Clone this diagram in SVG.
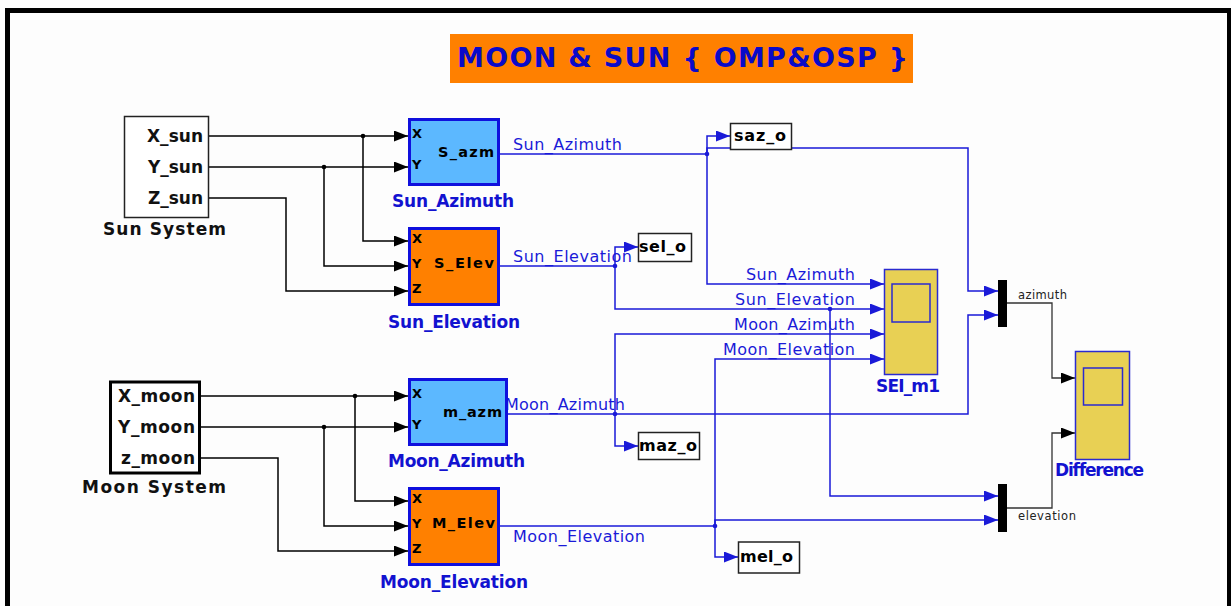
<svg xmlns="http://www.w3.org/2000/svg" width="1231" height="606" viewBox="0 0 1231 606">
<defs>
<style>
text{font-family:"DejaVu Sans","Liberation Sans",sans-serif}
.bold{font-weight:bold}
.lbl{font-weight:bold;font-size:17px;fill:#1212d0}
.port{font-weight:bold;font-size:13px;fill:#000}
.inner{font-weight:bold;font-size:14.5px;fill:#000}
.sys{font-weight:bold;font-size:17px;fill:#111}
.sig{font-size:16px;fill:#1a1ad8}
.outb{font-weight:bold;font-size:16px;fill:#000}
.k{fill:none;stroke:#000;stroke-width:1.5}
.km{fill:none;stroke:#333;stroke-width:1.3}
.b{fill:none;stroke:#1a1ad8;stroke-width:1.5}
.ak{marker-end:url(#ak)}
.ab{marker-end:url(#ab)}
.dk{fill:#000}
.db{fill:#1a1ad8}
.box{fill:#fff;stroke:#222;stroke-width:1.5}
.scope{fill:#E8D054;stroke:#2a2ad0;stroke-width:1.5}
.scin{fill:none;stroke:#2a2ad0;stroke-width:1.5}
</style>
<marker id="ak" markerUnits="userSpaceOnUse" markerWidth="15" markerHeight="11" refX="14" refY="5.5" orient="auto"><path d="M0,0 L14,5.5 L0,11 z" fill="#000"/></marker>
<marker id="ab" markerUnits="userSpaceOnUse" markerWidth="15" markerHeight="11" refX="14" refY="5.5" orient="auto"><path d="M0,0 L14,5.5 L0,11 z" fill="#1a1ad8"/></marker>
</defs>
<rect x="0" y="0" width="1231" height="606" fill="#fdfdfd"/>
<rect x="7.5" y="10.5" width="1222" height="700" fill="none" stroke="#000" stroke-width="5"/>

<g id="title">
<rect x="450" y="34" width="463" height="49" fill="#FF8000"/>
<text x="457" y="67" font-size="27" class="bold" fill="#0a0ac8" textLength="451">MOON &amp; SUN { OMP&amp;OSP }</text>
</g>

<g id="connectors">
<!-- sun inputs -->
<path class="k ak" d="M209,136 H408"/>
<path class="k ak" d="M363,136 V241 H408"/>
<path class="k ak" d="M209,167 H408"/>
<path class="k ak" d="M324,167 V266 H408"/>
<path class="k ak" d="M209,198 H286 V291 H408"/>
<circle class="dk" cx="363" cy="136" r="2.3"/>
<circle class="dk" cx="324" cy="167" r="2.3"/>
<!-- moon inputs -->
<path class="k ak" d="M201,396 H408"/>
<path class="k ak" d="M355,396 V501 H408"/>
<path class="k ak" d="M201,427 H408"/>
<path class="k ak" d="M324,427 V526 H408"/>
<path class="k ak" d="M201,458 H278 V551 H408"/>
<circle class="dk" cx="355" cy="396" r="2.3"/>
<circle class="dk" cx="324" cy="427" r="2.3"/>
<!-- Sun_Azimuth -->
<path class="b" d="M500,154 H707"/>
<path class="b ab" d="M707,154 V148 H968 V291 H998"/>
<path class="b ab" d="M707,154 V136 H730"/>
<path class="b ab" d="M707,154 V284 H884"/>
<circle class="db" cx="707" cy="154" r="2.3"/>
<!-- Sun_Elevation -->
<path class="b" d="M500,266 H615"/>
<path class="b ab" d="M615,266 V247 H638"/>
<path class="b ab" d="M615,266 V309 H884"/>
<path class="b ab" d="M830,309 V496 H998"/>
<circle class="db" cx="615" cy="266" r="2.3"/>
<circle class="db" cx="830" cy="309" r="2.3"/>
<!-- Moon_Azimuth -->
<path class="b ab" d="M508,414 H968 V315 H998"/>
<path class="b ab" d="M615,414 V334 H884"/>
<path class="b ab" d="M615,414 V446 H638"/>
<circle class="db" cx="615" cy="414" r="2.3"/>
<!-- Moon_Elevation -->
<path class="b" d="M500,526 H715"/>
<path class="b ab" d="M715,526 V359 H884"/>
<path class="b ab" d="M715,526 V557 H738"/>
<path class="b ab" d="M715,526 V520 H998"/>
<circle class="db" cx="715" cy="526" r="2.3"/>
<!-- mux outputs -->
<path class="km ak" d="M1007,303 H1052 V378 H1075"/>
<path class="km ak" d="M1007,508 H1052 V433 H1075"/>
<!-- signal labels -->
<text class="sig" x="513" y="150" textLength="109">Sun_Azimuth</text>
<text class="sig" x="513" y="262" textLength="119">Sun_Elevation</text>
<text class="sig" x="746" y="280" textLength="109">Sun_Azimuth</text>
<text class="sig" x="735" y="305" textLength="120">Sun_Elevation</text>
<text class="sig" x="734" y="330" textLength="121">Moon_Azimuth</text>
<text class="sig" x="723" y="355" textLength="132">Moon_Elevation</text>
<text class="sig" x="505" y="410" textLength="120">Moon_Azimuth</text>
<text class="sig" x="513" y="542" textLength="132">Moon_Elevation</text>
<text x="1018" y="299" font-size="11.5" fill="#222" textLength="49">azimuth</text>
<text x="1018" y="520" font-size="11.5" fill="#222" textLength="58">elevation</text>
</g>

<g id="sun_system">
<rect class="box" x="124.5" y="116.5" width="84" height="101"/>
<text class="sys" x="147" y="142" textLength="56">X_sun</text>
<text class="sys" x="148" y="173" textLength="55">Y_sun</text>
<text class="sys" x="148" y="204" textLength="55">Z_sun</text>
<text class="sys" x="103" y="235" textLength="123">Sun System</text>
</g>

<g id="moon_system">
<rect x="110.5" y="382" width="89" height="91" fill="#fff" stroke="#000" stroke-width="3"/>
<text class="sys" x="118" y="402" textLength="77">X_moon</text>
<text class="sys" x="118" y="433" textLength="77">Y_moon</text>
<text class="sys" x="121" y="464" textLength="74">z_moon</text>
<text class="sys" x="82" y="493" textLength="144">Moon System</text>
</g>

<g id="sun_azimuth">
<rect x="409.5" y="119.5" width="89" height="65" fill="#5CB8FF" stroke="#1010dd" stroke-width="3"/>
<text class="port" x="412" y="138">X</text>
<text class="port" x="412" y="169">Y</text>
<text class="inner" x="438" y="157" textLength="56">S_azm</text>
<text class="lbl" x="392" y="207" textLength="122">Sun_Azimuth</text>
</g>

<g id="sun_elevation">
<rect x="409.5" y="228.5" width="89" height="76" fill="#FF8000" stroke="#1010dd" stroke-width="3"/>
<text class="port" x="412" y="243">X</text>
<text class="port" x="412" y="268">Y</text>
<text class="port" x="412" y="293">Z</text>
<text class="inner" x="434" y="268" textLength="60">S_Elev</text>
<text class="lbl" x="388" y="328" textLength="132">Sun_Elevation</text>
</g>

<g id="moon_azimuth">
<rect x="409.5" y="379.5" width="97" height="65" fill="#5CB8FF" stroke="#1010dd" stroke-width="3"/>
<text class="port" x="412" y="398">X</text>
<text class="port" x="412" y="429">Y</text>
<text class="inner" x="443" y="417" textLength="59">m_azm</text>
<text class="lbl" x="388" y="467" textLength="137">Moon_Azimuth</text>
</g>

<g id="moon_elevation">
<rect x="409.5" y="488.5" width="89" height="76" fill="#FF8000" stroke="#1010dd" stroke-width="3"/>
<text class="port" x="412" y="503">X</text>
<text class="port" x="412" y="528">Y</text>
<text class="port" x="412" y="553">Z</text>
<text class="inner" x="432" y="528" textLength="63">M_Elev</text>
<text class="lbl" x="380" y="588" textLength="148">Moon_Elevation</text>
</g>

<g id="saz_o">
<rect class="box" x="730.5" y="123.5" width="61" height="26"/>
<text class="outb" x="734" y="141" textLength="52">saz_o</text>
</g>
<g id="sel_o">
<rect class="box" x="638.5" y="233.5" width="53" height="28"/>
<text class="outb" x="639" y="252" textLength="47">sel_o</text>
</g>
<g id="maz_o">
<rect class="box" x="638.5" y="432.5" width="61" height="27"/>
<text class="outb" x="639" y="451" textLength="58">maz_o</text>
</g>
<g id="mel_o">
<rect class="box" x="738.5" y="542" width="61" height="31"/>
<text class="outb" x="740" y="562" textLength="53">mel_o</text>
</g>

<g id="SEI_m1">
<rect class="scope" x="884.5" y="269.5" width="53" height="105"/>
<rect class="scin" x="892" y="284" width="38" height="38"/>
<text class="lbl" x="876" y="392" textLength="64">SEI_m1</text>
</g>

<g id="mux_azimuth">
<rect x="998" y="280" width="9" height="47" fill="#000"/>
</g>
<g id="mux_elevation">
<rect x="998" y="484" width="9" height="48" fill="#000"/>
</g>

<g id="Difference">
<rect class="scope" x="1075.5" y="351.5" width="54" height="108"/>
<rect class="scin" x="1083.5" y="368" width="39" height="37"/>
<text class="lbl" x="1055" y="476" textLength="89">Difference</text>
</g>
</svg>
